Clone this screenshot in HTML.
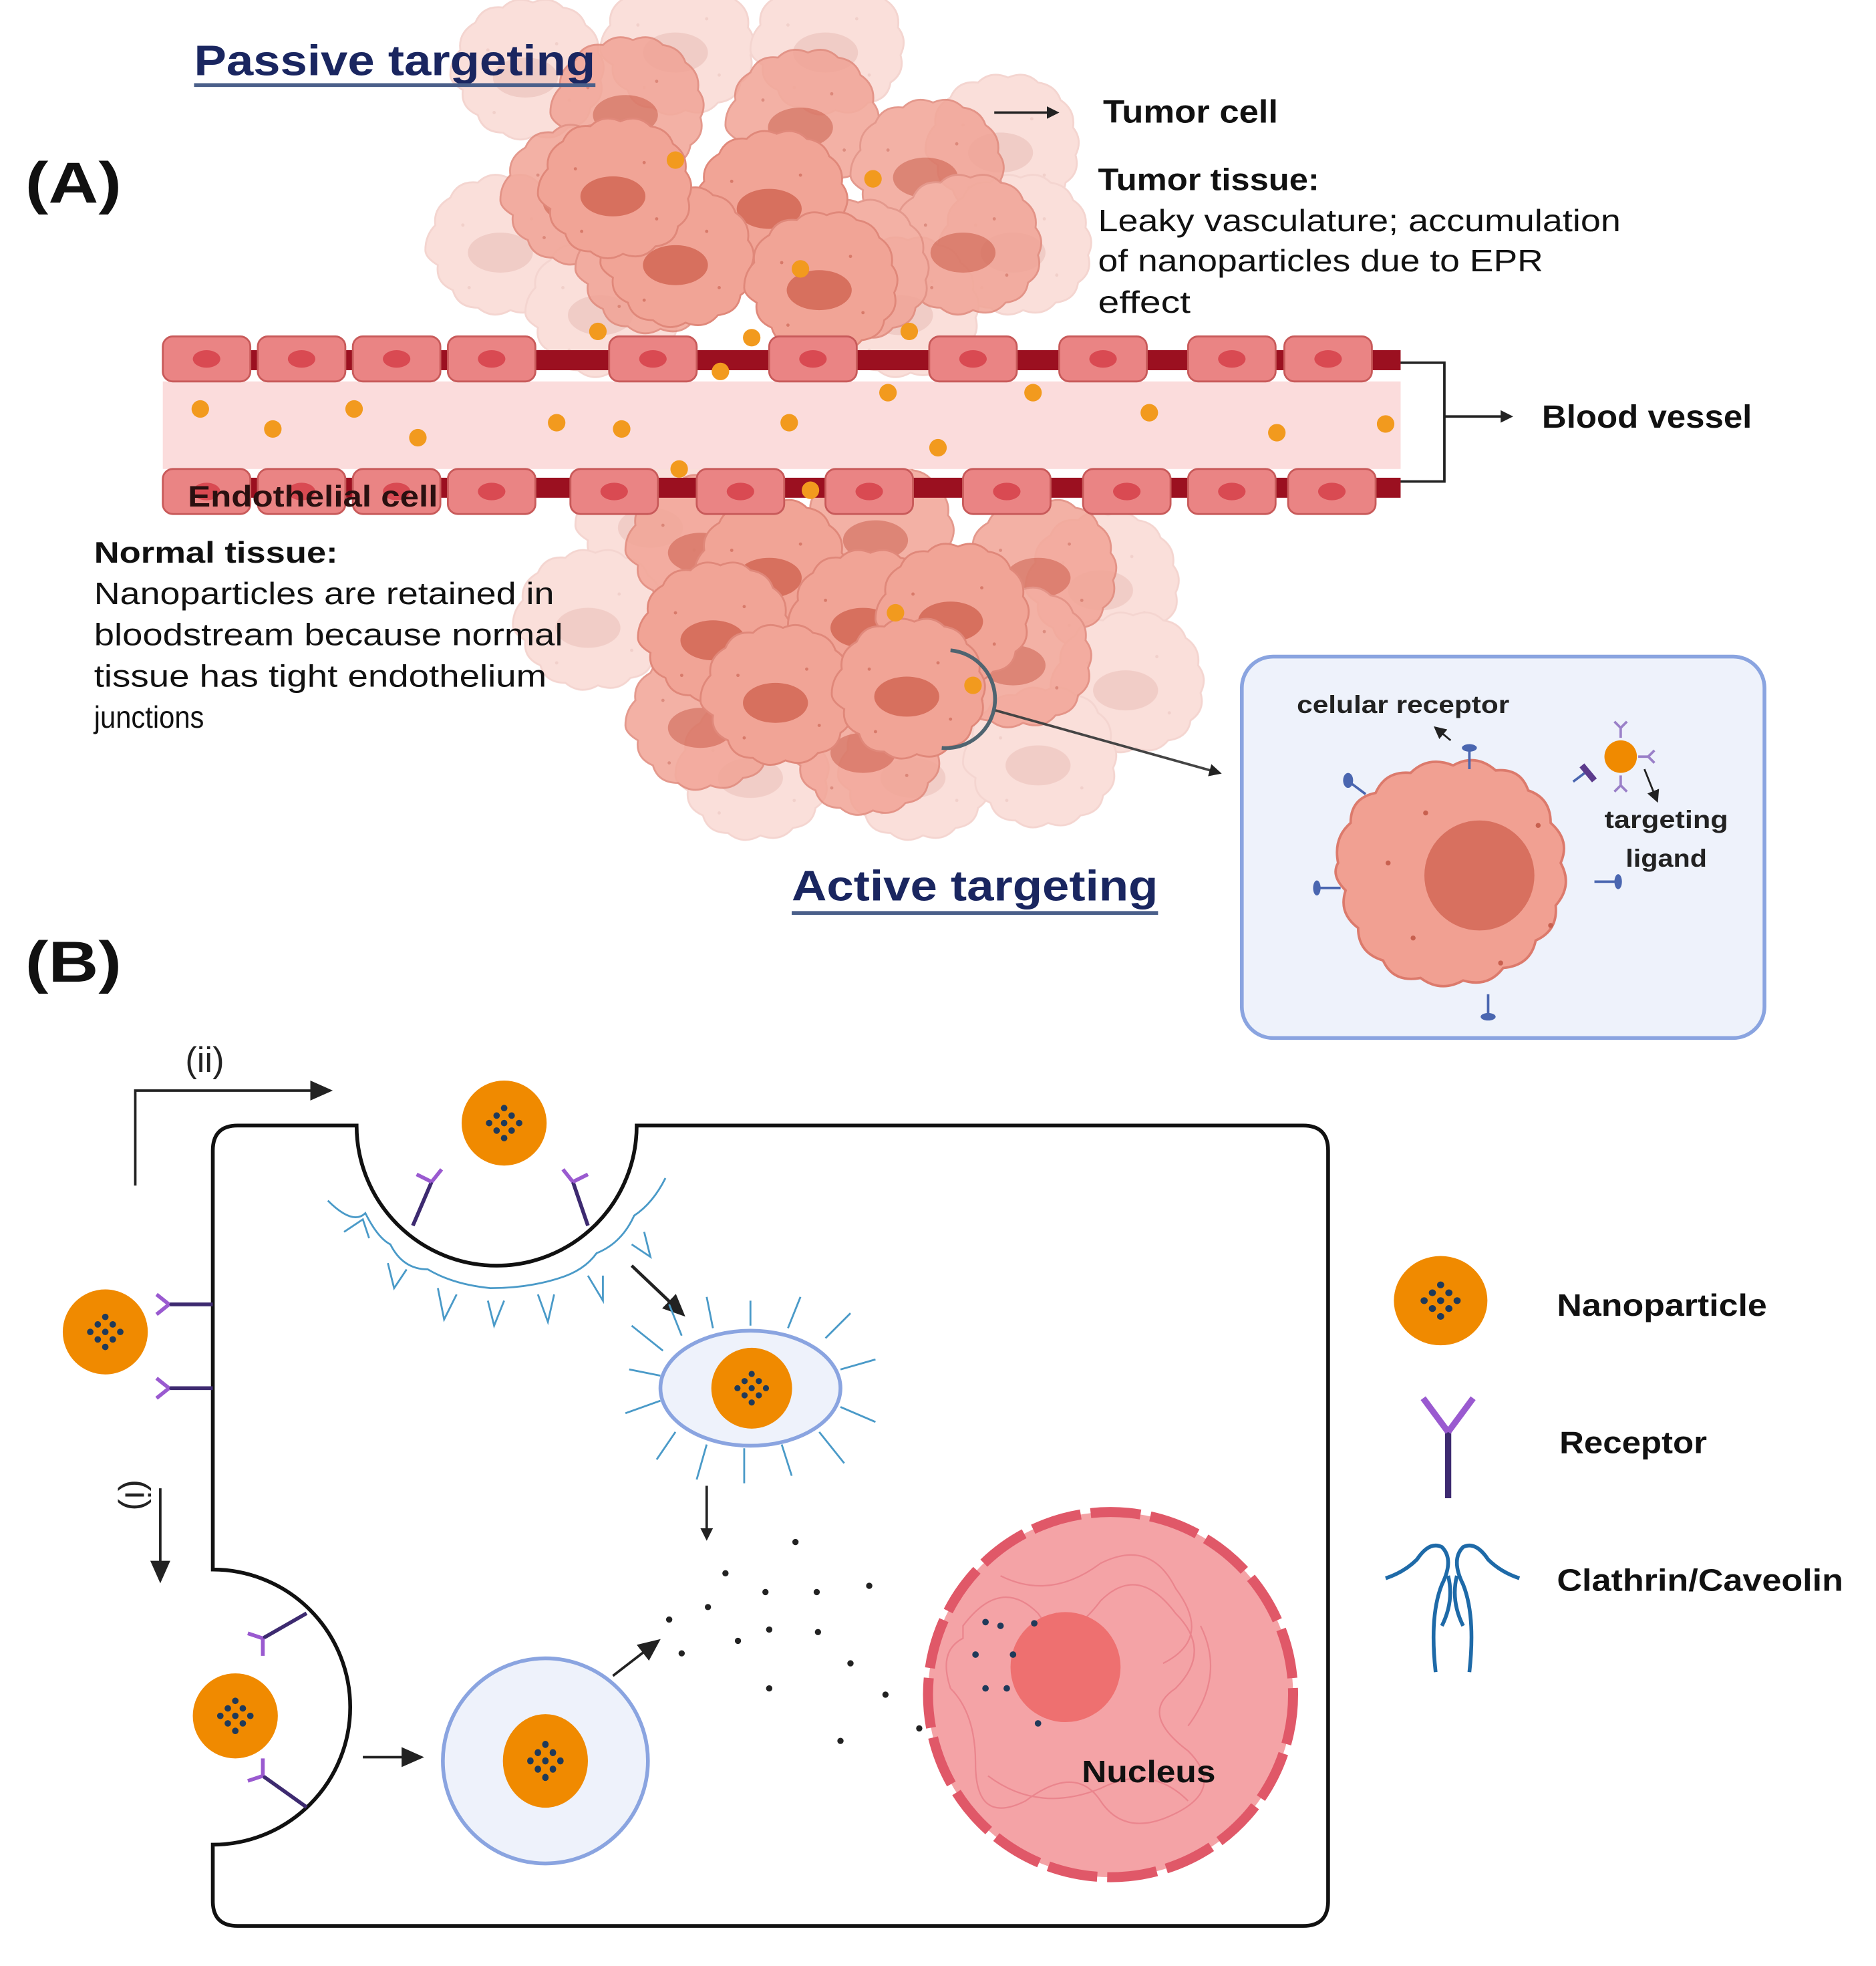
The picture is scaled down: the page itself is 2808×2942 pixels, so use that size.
<!DOCTYPE html>
<html><head><meta charset="utf-8"><style>
html,body{margin:0;padding:0;background:#fff;}
svg{display:block;}
text{font-family:"Liberation Sans",sans-serif;}
</style></head><body>
<svg width="2808" height="2942" viewBox="0 0 1500 1572" xmlns="http://www.w3.org/2000/svg">
<defs>
<g id="cell">
<path d="M-60,0 q0,-12 8,-20 q-2,-14 12,-22 q6,-14 22,-12 q10,-10 24,-4 q14,-6 24,4 q14,2 18,14 q12,8 10,22 q8,10 2,22 q4,14 -8,22 q-2,14 -18,16 q-10,12 -26,6 q-14,8 -26,-2 q-16,0 -20,-14 q-14,-6 -12,-20 q-10,-6 -10,-12z" fill="#f1a496" stroke="#e0887a" stroke-width="1.5"/>
<ellipse cx="0" cy="2" rx="26" ry="16" fill="#d7705e"/>
<circle cx="-30" cy="-20" r="1.3" fill="#d87a6a"/><circle cx="25" cy="-25" r="1.3" fill="#d87a6a"/><circle cx="35" cy="20" r="1.3" fill="#d87a6a"/><circle cx="-25" cy="30" r="1.3" fill="#d87a6a"/>
</g>
<g id="np"><ellipse cx="0" cy="0" rx="34" ry="34" fill="#f08a00"/>
<g fill="#1f3a5a"><circle cx="0" cy="-12" r="2.6"/><circle cx="-6" cy="-6" r="2.6"/><circle cx="6" cy="-6" r="2.6"/><circle cx="-12" cy="0" r="2.6"/><circle cx="0" cy="0" r="2.6"/><circle cx="12" cy="0" r="2.6"/><circle cx="-6" cy="6" r="2.6"/><circle cx="6" cy="6" r="2.6"/><circle cx="0" cy="12" r="2.6"/></g></g>
<g id="endo"><rect x="0" y="0" width="70" height="36" rx="8" fill="#ea8484" stroke="#c85a5a" stroke-width="1.5"/><ellipse cx="35" cy="18" rx="11" ry="7" fill="#d94a52"/></g>
<marker id="ah" markerWidth="10" markerHeight="10" refX="8" refY="5" orient="auto" markerUnits="userSpaceOnUse"><path d="M0,0 L10,5 L0,10z" fill="#222"/></marker>
<marker id="ah2" markerWidth="18" markerHeight="16" refX="14" refY="8" orient="auto" markerUnits="userSpaceOnUse"><path d="M0,0 L18,8 L0,16z" fill="#222"/></marker>
</defs>

<g opacity="0.35">
<use href="#cell" x="420" y="60"/><use href="#cell" x="540" y="40"/><use href="#cell" x="660" y="40"/><use href="#cell" x="800" y="120"/><use href="#cell" x="810" y="200"/><use href="#cell" x="400" y="200"/><use href="#cell" x="720" y="250"/><use href="#cell" x="480" y="250"/>
</g>
<g opacity="0.85">
<use href="#cell" x="500" y="90"/><use href="#cell" x="640" y="100"/><use href="#cell" x="740" y="140"/><use href="#cell" x="460" y="160"/><use href="#cell" x="770" y="200"/><use href="#cell" x="680" y="220"/><use href="#cell" x="520" y="215"/>
</g>
<use href="#cell" x="615" y="165"/><use href="#cell" x="540" y="210"/><use href="#cell" x="655" y="230"/><use href="#cell" x="490" y="155"/>

<g opacity="0.35">
<use href="#cell" x="520" y="420"/><use href="#cell" x="880" y="470"/><use href="#cell" x="900" y="550"/><use href="#cell" x="600" y="620"/><use href="#cell" x="730" y="620"/><use href="#cell" x="830" y="610"/><use href="#cell" x="470" y="500"/>
</g>
<g opacity="0.85">
<use href="#cell" x="560" y="440"/><use href="#cell" x="700" y="430"/><use href="#cell" x="830" y="460"/><use href="#cell" x="810" y="530"/><use href="#cell" x="560" y="580"/><use href="#cell" x="690" y="600"/>
</g>
<use href="#cell" x="615" y="460"/><use href="#cell" x="570" y="510"/><use href="#cell" x="690" y="500"/><use href="#cell" x="760" y="495"/><use href="#cell" x="620" y="560"/><use href="#cell" x="725" y="555"/>

<rect x="130" y="305" width="990" height="70" fill="#fbdcdc"/>
<rect x="135" y="280" width="985" height="16" fill="#9b1020"/>
<rect x="135" y="382" width="985" height="16" fill="#9b1020"/>
<g>
<use href="#endo" x="130" y="269"/><use href="#endo" x="206" y="269"/><use href="#endo" x="282" y="269"/><use href="#endo" x="358" y="269"/><use href="#endo" x="487" y="269"/><use href="#endo" x="615" y="269"/><use href="#endo" x="743" y="269"/><use href="#endo" x="847" y="269"/><use href="#endo" x="950" y="269"/><use href="#endo" x="1027" y="269"/>
<use href="#endo" x="130" y="375"/><use href="#endo" x="206" y="375"/><use href="#endo" x="282" y="375"/><use href="#endo" x="358" y="375"/><use href="#endo" x="456" y="375"/><use href="#endo" x="557" y="375"/><use href="#endo" x="660" y="375"/><use href="#endo" x="770" y="375"/><use href="#endo" x="866" y="375"/><use href="#endo" x="950" y="375"/><use href="#endo" x="1030" y="375"/>
</g>
<g fill="#f29a1e">
<circle cx="160" cy="327" r="7"/><circle cx="218" cy="343" r="7"/><circle cx="283" cy="327" r="7"/><circle cx="334" cy="350" r="7"/><circle cx="445" cy="338" r="7"/><circle cx="497" cy="343" r="7"/><circle cx="631" cy="338" r="7"/><circle cx="710" cy="314" r="7"/><circle cx="750" cy="358" r="7"/><circle cx="826" cy="314" r="7"/><circle cx="919" cy="330" r="7"/><circle cx="1021" cy="346" r="7"/><circle cx="1108" cy="339" r="7"/><circle cx="576" cy="297" r="7"/><circle cx="543" cy="375" r="7"/><circle cx="648" cy="392" r="7"/>
<circle cx="478" cy="265" r="7"/><circle cx="601" cy="270" r="7"/><circle cx="727" cy="265" r="7"/><circle cx="540" cy="128" r="7"/><circle cx="698" cy="143" r="7"/><circle cx="640" cy="215" r="7"/><circle cx="716" cy="490" r="7"/><circle cx="778" cy="548" r="7"/>
</g>
<text x="150" y="405" font-size="24" font-weight="bold" fill="#2a1010" textLength="200" lengthAdjust="spacingAndGlyphs">Endothelial cell</text>

<text x="20" y="162" font-size="46" font-weight="bold" fill="#111" textLength="77" lengthAdjust="spacingAndGlyphs">(A)</text>
<text x="155" y="60" font-size="34" font-weight="bold" fill="#1a2660" textLength="321" lengthAdjust="spacingAndGlyphs">Passive targeting</text>
<line x1="155" y1="68" x2="476" y2="68" stroke="#4a5f8a" stroke-width="3"/>
<line x1="795" y1="90" x2="845" y2="90" stroke="#222" stroke-width="2" marker-end="url(#ah)"/>
<text x="882" y="98" font-size="26" font-weight="bold" fill="#111" textLength="140" lengthAdjust="spacingAndGlyphs">Tumor cell</text>
<text x="878" y="152" font-size="25" font-weight="bold" fill="#111" textLength="177" lengthAdjust="spacingAndGlyphs">Tumor tissue:</text>
<g font-size="25" fill="#111"><text x="878" y="185" textLength="418" lengthAdjust="spacingAndGlyphs">Leaky vasculature; accumulation</text><text x="878" y="217" textLength="356" lengthAdjust="spacingAndGlyphs">of nanoparticles due to EPR</text><text x="878" y="250" textLength="74" lengthAdjust="spacingAndGlyphs">effect</text></g>
<path d="M1120,290 H1155 V385 H1120 M1155,333 H1208" stroke="#222" stroke-width="2" fill="none" marker-end="url(#ah)"/>
<text x="1233" y="342" font-size="26" font-weight="bold" fill="#111" textLength="168" lengthAdjust="spacingAndGlyphs">Blood vessel</text>
<text x="75" y="450" font-size="24" font-weight="bold" fill="#111" textLength="195" lengthAdjust="spacingAndGlyphs">Normal  tissue:</text>
<g font-size="25" fill="#111"><text x="75" y="483" textLength="368" lengthAdjust="spacingAndGlyphs">Nanoparticles are retained in</text><text x="75" y="516" textLength="375" lengthAdjust="spacingAndGlyphs">bloodstream because normal</text><text x="75" y="549" textLength="362" lengthAdjust="spacingAndGlyphs">tissue has tight endothelium</text><text x="75" y="582" textLength="88" lengthAdjust="spacingAndGlyphs">junctions</text></g>

<path d="M760,520 A38,38 0 0 1 753,598" stroke="#4f6470" stroke-width="3" fill="none"/>
<line x1="796" y1="568" x2="975" y2="618" stroke="#444" stroke-width="2" marker-end="url(#ah)"/>

<rect x="993" y="525" width="418" height="305" rx="25" fill="#eef2fb" stroke="#8aa4e0" stroke-width="3"/>
<path d="M1070,690 q-4,-20 10,-32 q0,-20 20,-24 q8,-18 28,-16 q14,-14 34,-6 q18,-10 34,4 q20,-2 26,16 q18,6 18,26 q16,14 8,32 q10,18 -4,34 q2,20 -16,28 q-4,20 -26,22 q-12,16 -32,10 q-18,10 -34,-2 q-22,4 -30,-14 q-20,-6 -20,-26 q-16,-12 -10,-30 q-12,-12 -6,-22z" fill="#f1a092" stroke="#dc7a6c" stroke-width="2"/>
<circle cx="1183" cy="700" r="44" fill="#d8705f"/>
<g fill="#c8604f"><circle cx="1110" cy="690" r="2"/><circle cx="1140" cy="650" r="2"/><circle cx="1230" cy="660" r="2"/><circle cx="1240" cy="740" r="2"/><circle cx="1130" cy="750" r="2"/><circle cx="1200" cy="770" r="2"/></g>
<g stroke="#4a66b0" stroke-width="2"><line x1="1175" y1="600" x2="1175" y2="615"/><line x1="1080" y1="626" x2="1092" y2="635"/><line x1="1055" y1="710" x2="1072" y2="710"/><line x1="1275" y1="705" x2="1292" y2="705"/><line x1="1190" y1="795" x2="1190" y2="812"/><line x1="1258" y1="625" x2="1270" y2="616"/></g>
<g fill="#4a66b0"><ellipse cx="1175" cy="598" rx="6" ry="3"/><ellipse cx="1078" cy="624" rx="4" ry="6"/><ellipse cx="1053" cy="710" rx="3" ry="6"/><ellipse cx="1294" cy="705" rx="3" ry="6"/><ellipse cx="1190" cy="813" rx="6" ry="3"/></g>
<path d="M1265,612 l10,12" stroke="#5b3a8c" stroke-width="5"/>
<ellipse cx="1296" cy="605" rx="13" ry="13" fill="#f08a00"/>
<g stroke="#9a80c8" stroke-width="2" fill="none"><path d="M1296,590 v-8 l-5,-5 M1296,582 l5,-5 M1296,620 v8 l-5,5 M1296,628 l5,5 M1310,605 h8 l5,-5 M1318,605 l5,5"/></g>
<line x1="1160" y1="592" x2="1148" y2="582" stroke="#222" stroke-width="1.5" marker-end="url(#ah)"/>
<line x1="1315" y1="615" x2="1325" y2="640" stroke="#222" stroke-width="1.5" marker-end="url(#ah)"/>
<text x="1037" y="570" font-size="20" font-weight="bold" fill="#222" textLength="170" lengthAdjust="spacingAndGlyphs">celular receptor</text>
<text x="1283" y="662" font-size="20" font-weight="bold" fill="#222" textLength="99" lengthAdjust="spacingAndGlyphs">targeting</text>
<text x="1300" y="693" font-size="20" font-weight="bold" fill="#222" textLength="65" lengthAdjust="spacingAndGlyphs">ligand</text>

<text x="633" y="720" font-size="34" font-weight="bold" fill="#1a2660" textLength="293" lengthAdjust="spacingAndGlyphs">Active targeting</text>
<line x1="633" y1="730" x2="926" y2="730" stroke="#4a5f8a" stroke-width="3"/>

<text x="20" y="785" font-size="46" font-weight="bold" fill="#111" textLength="77" lengthAdjust="spacingAndGlyphs">(B)</text>
<path d="M190,900 H285 A112,112 0 0 0 509,900 H1042 Q1062,900 1062,920 V1520 Q1062,1540 1042,1540 H190 Q170,1540 170,1520 V1475 A110,110 0 0 0 170,1255 V920 Q170,900 190,900Z" fill="#fff" stroke="#111" stroke-width="3"/>
<path d="M108,948 V872 H262" stroke="#222" stroke-width="2" fill="none" marker-end="url(#ah2)"/>
<text x="148" y="857" font-size="28" fill="#222">(ii)</text>
<line x1="128" y1="1190" x2="128" y2="1262" stroke="#222" stroke-width="2" marker-end="url(#ah2)"/>
<text x="0" y="0" font-size="28" fill="#222" transform="translate(100,1183) rotate(90)">(i)</text>

<g stroke="#3d2a70" stroke-width="3"><line x1="135" y1="1043" x2="170" y2="1043"/><line x1="135" y1="1110" x2="170" y2="1110"/></g>
<g stroke="#9a5ad0" stroke-width="3" fill="none"><path d="M135,1043 l-10,-8 M135,1043 l-10,8 M135,1110 l-10,-8 M135,1110 l-10,8"/></g>
<use href="#np" x="84" y="1065"/>

<use href="#np" x="403" y="898"/>
<g stroke="#3d2a70" stroke-width="3"><line x1="330" y1="980" x2="345" y2="945"/><line x1="470" y1="980" x2="458" y2="945"/></g>
<g stroke="#9a5ad0" stroke-width="3" fill="none"><path d="M345,945 l-12,-6 M345,945 l8,-10 M458,945 l-8,-10 M458,945 l12,-6"/></g>
<g stroke="#4a9ac8" stroke-width="1.5" fill="none">
<path d="M262,960 q20,20 30,10 q10,20 20,25 q10,20 30,20 q20,12 50,15 q30,0 55,-8 q20,-6 30,-20 q20,-8 30,-30 q15,-10 25,-30"/>
<path d="M275,985 l15,-10 l5,15 M310,1010 l5,20 l10,-15 M350,1030 l5,25 l10,-20 M390,1040 l5,20 l8,-20 M430,1035 l8,22 l5,-22 M470,1020 l12,20 l0,-20 M505,995 l15,10 l-5,-20"/>
</g>
<line x1="505" y1="1012" x2="545" y2="1050" stroke="#222" stroke-width="2.5" marker-end="url(#ah2)"/>
<g stroke="#4a9ac8" stroke-width="1.5" fill="none"><path d="M530,1080 l-25,-20 M545,1068 l-10,-25 M570,1062 l-5,-25 M600,1060 l0,-20 M630,1062 l10,-25 M660,1070 l20,-20 M672,1095 l28,-8 M672,1125 l28,12 M655,1145 l20,25 M625,1155 l8,25 M595,1158 l0,28 M565,1155 l-8,28 M540,1145 l-15,22 M528,1120 l-28,10 M528,1100 l-25,-5"/></g>
<ellipse cx="600" cy="1110" rx="72" ry="46" fill="#eef2fb" stroke="#8aa4e0" stroke-width="3"/>
<use href="#np" transform="translate(601,1110) scale(0.95)"/>
<line x1="565" y1="1188" x2="565" y2="1230" stroke="#222" stroke-width="2" marker-end="url(#ah)"/>

<g stroke="#3d2a70" stroke-width="3"><line x1="210" y1="1310" x2="245" y2="1290"/><line x1="210" y1="1420" x2="245" y2="1445"/></g>
<g stroke="#9a5ad0" stroke-width="3" fill="none"><path d="M210,1310 l-12,-4 M210,1310 l0,14 M210,1420 l-12,4 M210,1420 l0,-14"/></g>
<use href="#np" x="188" y="1372"/>
<line x1="290" y1="1405" x2="335" y2="1405" stroke="#222" stroke-width="2" marker-end="url(#ah2)"/>
<circle cx="436" cy="1408" r="82" fill="#eef2fb" stroke="#8aa4e0" stroke-width="3"/>
<use href="#np" transform="translate(436,1408) scale(1,1.1)"/>
<line x1="490" y1="1340" x2="525" y2="1313" stroke="#222" stroke-width="2" marker-end="url(#ah2)"/>

<g fill="#222"><circle cx="636" cy="1233" r="2.5"/><circle cx="580" cy="1258" r="2.5"/><circle cx="612" cy="1273" r="2.5"/><circle cx="653" cy="1273" r="2.5"/><circle cx="695" cy="1268" r="2.5"/><circle cx="566" cy="1285" r="2.5"/><circle cx="535" cy="1295" r="2.5"/><circle cx="615" cy="1303" r="2.5"/><circle cx="590" cy="1312" r="2.5"/><circle cx="654" cy="1305" r="2.5"/><circle cx="545" cy="1322" r="2.5"/><circle cx="680" cy="1330" r="2.5"/><circle cx="708" cy="1355" r="2.5"/><circle cx="615" cy="1350" r="2.5"/><circle cx="735" cy="1382" r="2.5"/><circle cx="672" cy="1392" r="2.5"/></g>

<circle cx="888" cy="1355" r="146" fill="#f4a3a6" stroke="#e05868" stroke-width="8" stroke-dasharray="40 8"/>
<g stroke="#e87e88" stroke-width="1.2" fill="none" opacity="0.8">
<path d="M770,1300 q30,-40 60,-10 q20,30 50,-10 q30,-30 60,10 q30,30 0,60 q-30,20 10,50 q30,30 -10,50 q-40,20 -60,-10 q-20,-30 -60,0 q-40,20 -40,-30 q0,-40 -20,-60 q-10,-30 10,-40z"/>
<path d="M800,1260 q40,20 80,-10 q40,-20 60,20 q30,40 -10,60 M790,1420 q40,30 90,10 q40,-20 70,10 M960,1300 q20,40 -10,80"/>
</g>
<circle cx="852" cy="1333" r="44" fill="#ee7070"/>
<g fill="#1f3a5a"><circle cx="788" cy="1297" r="2.6"/><circle cx="800" cy="1300" r="2.6"/><circle cx="827" cy="1298" r="2.6"/><circle cx="780" cy="1323" r="2.6"/><circle cx="810" cy="1323" r="2.6"/><circle cx="788" cy="1350" r="2.6"/><circle cx="805" cy="1350" r="2.6"/><circle cx="830" cy="1378" r="2.6"/></g>
<text x="865" y="1425" font-size="25" font-weight="bold" fill="#111" textLength="107" lengthAdjust="spacingAndGlyphs">Nucleus</text>

<use href="#np" transform="translate(1152,1040) scale(1.1,1.05)"/>
<text x="1245" y="1052" font-size="25" font-weight="bold" fill="#111" textLength="168" lengthAdjust="spacingAndGlyphs">Nanoparticle</text>
<g stroke-width="5" fill="none"><path d="M1158,1198 V1145" stroke="#3d2a70"/><path d="M1158,1145 L1138,1118 M1158,1145 L1178,1118" stroke="#9a5ad0"/></g>
<text x="1247" y="1162" font-size="25" font-weight="bold" fill="#111" textLength="118" lengthAdjust="spacingAndGlyphs">Receptor</text>
<g stroke="#1e6aa8" stroke-width="3" fill="none"><path d="M1108,1262 q15,-5 25,-15 q10,-15 20,-10 q10,10 0,30 q-10,25 -5,70 M1215,1262 q-15,-5 -25,-15 q-10,-15 -20,-10 q-10,10 0,30 q10,25 5,70 M1153,1300 q10,-20 5,-40 M1170,1300 q-10,-20 -5,-40"/></g>
<text x="1245" y="1272" font-size="25" font-weight="bold" fill="#111" textLength="229" lengthAdjust="spacingAndGlyphs">Clathrin/Caveolin</text>
</svg>
</body></html>
